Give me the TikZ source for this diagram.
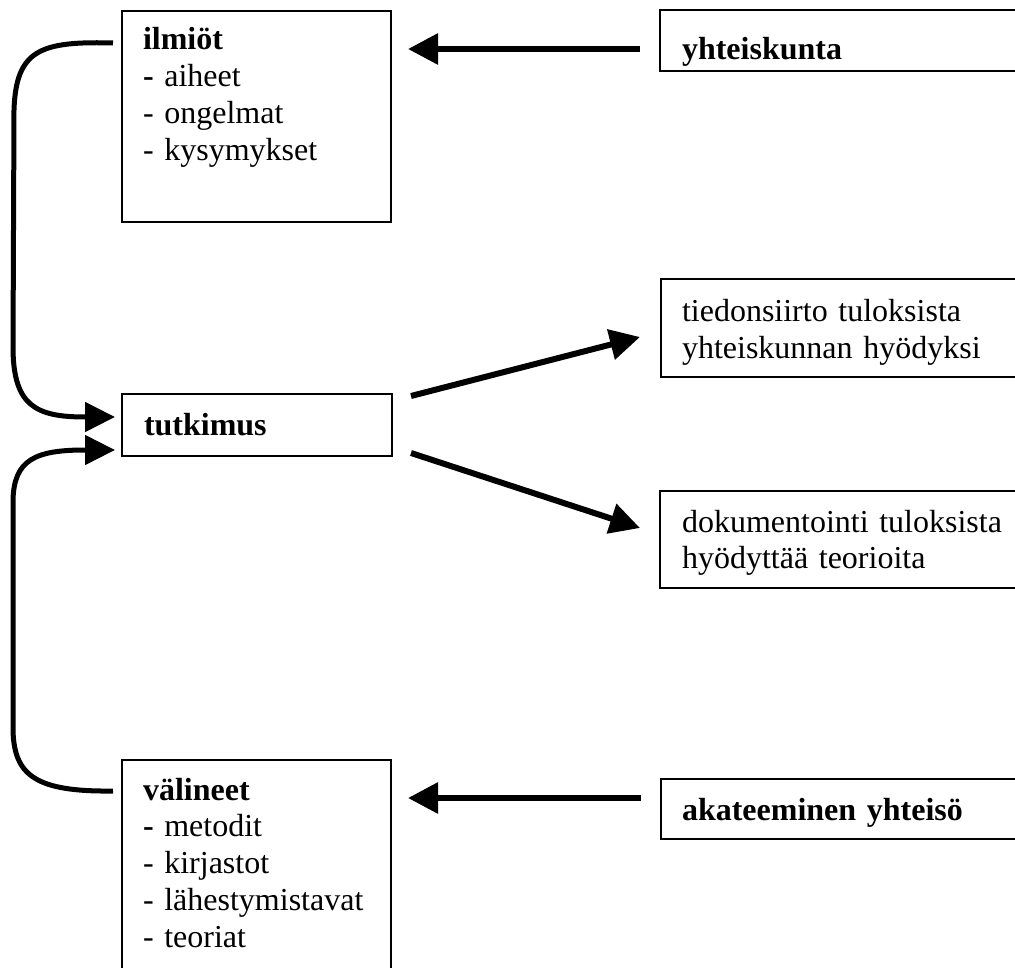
\documentclass[tikz,border=0pt]{standalone}
\usepackage{fontspec}
\setmainfont{Liberation Serif}
\usetikzlibrary{arrows.meta,calc}
\begin{document}
\begin{tikzpicture}[x=1pt,y=-1pt,
  box/.style={draw=black,line width=1.6pt,inner sep=0pt,outer sep=0pt,anchor=north west},
  txt/.style={inner sep=0pt,outer sep=0pt,anchor=base west,align=left,text width=#1,
    font=\fontsize{32}{36.8}\selectfont},
  txt/.default=330pt,
  flow/.style={line width=6pt,-{Triangle[length=30pt,width=30pt]}},
  loopline/.style={line width=5pt,-{Triangle[length=30pt,width=29pt]}}]
\useasboundingbox (0,0) rectangle (1015,968);
\fill[white] (0,0) rectangle (1015,968);

% boxes
\node[box,minimum width=269pt,minimum height=211pt] (ilm) at (122,11) {};
\node[box,minimum width=360pt,minimum height=61pt]  (yht) at (660,10) {};
\node[box,minimum width=359pt,minimum height=98pt]  (tie) at (661,279) {};
\node[box,minimum width=270pt,minimum height=62pt]  (tut) at (122,394) {};
\node[box,minimum width=360pt,minimum height=97pt]  (dok) at (660,491) {};
\node[box,minimum width=269pt,minimum height=240pt] (val) at (122,760) {};
\node[box,minimum width=359pt,minimum height=60pt]  (aka) at (661,779) {};

% texts
\node[txt=240pt] (ilmT) at ($(ilm.north west)+(21,39)$)
  {\textbf{ilmiöt}\\\textbf{-} aiheet\\- ongelmat\\- kysymykset};
\node[txt] (yhtT) at ($(yht.north west)+(22,50)$) {\textbf{yhteiskunta}};
\node[txt] (tieT) at ($(tie.north west)+(21,43)$)
  {tiedonsiirto tuloksista\\yhteiskunnan hyödyksi};
\node[txt=240pt] (tutT) at ($(tut.north west)+(22,41)$) {\textbf{tutkimus}};
\node[txt] (dokT) at ($(dok.north west)+(22,41)$)
  {dokumentointi tuloksista\\hyödyttää teorioita};
\node[txt=240pt] (valT) at ($(val.north west)+(21,40)$)
  {\textbf{välineet}\\\textbf{-} metodit\\- kirjastot\\- lähestymistavat\\- teoriat};
\node[txt] (akaT) at ($(aka.north west)+(21,41)$) {\textbf{akateeminen yhteisö}};

% straight connectors
\draw[flow] ($(yht.north west)+(-20,39)$) -- ($(ilm.north east)+(17,38)$);
\draw[flow] ($(aka.north west)+(-20,19)$) -- ($(val.north east)+(17,38)$);
\draw[flow] ($(tut.north east)+(19,2)$) -- ($(tie.west)+(-21,9)$);
\draw[flow] ($(tut.south east)+(19,-3)$) -- ($(dok.west)+(-20,-11.5)$);

% feedback loops into the research box
\draw[loopline] ($(ilm.north west)+(-9,32)$)
  .. controls (40,41) and (16,50) .. (14,110)
  -- (13,350)
  .. controls (14,405) and (35,417) .. (85,417)
  -- ($(tut.west)+(-7,-8)$);
\draw[loopline] ($(val.north west)+(-9,31)$)
  .. controls (35,792) and (14,775) .. (13,730)
  -- (13,500)
  .. controls (14,460) and (35,450) .. (85,450)
  -- ($(tut.west)+(-7,25)$);
\end{tikzpicture}
\end{document}
